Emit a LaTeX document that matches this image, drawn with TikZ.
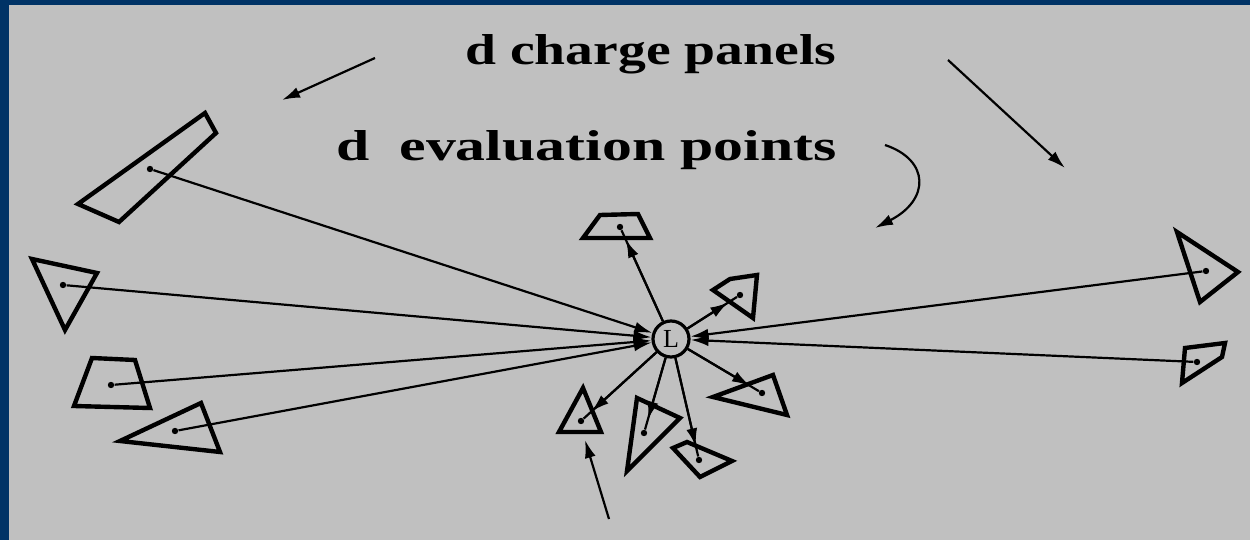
\documentclass[tikz,border=0pt]{standalone}
\usepackage{fontspec}
\setmainfont{Liberation Serif}
\usetikzlibrary{arrows.meta,calc}
\definecolor{frameblue}{RGB}{0,51,102}
\definecolor{bggray}{RGB}{192,192,192}
\begin{document}
\begin{tikzpicture}[x=0.5pt,y=-0.5pt,
  panel/.style={line width=2.2pt,line join=miter},
  conn/.style={line width=1.1pt},
  tip/.style={-{Latex[length=9pt,width=5.5pt]}},
  dotpt/.style={circle,fill=black,inner sep=0pt,minimum size=3.2pt},
  evalpt/.style={circle,draw,line width=1.6pt,minimum size=18pt,inner sep=0pt,font=\fontsize{13}{14}\selectfont},
  label/.style={anchor=base west,inner sep=0pt}]
\useasboundingbox (0,0) rectangle (1250,540);
\fill[frameblue] (0,0) rectangle (1250,540);
\fill[bggray] (9,5) rectangle (1250,540);

% evaluation point
\node[evalpt] (L) at (671,339) {L};

% far panels (left)
\draw[panel] (205,113) -- (216,133) -- (119,222) -- (78,204) -- cycle;
\node[dotpt] (pa) at (150,169) {};
\draw[panel] (32,259) -- (97,273) -- (65,330) -- cycle;
\node[dotpt] (pb) at (63,285) {};
\draw[panel] (92,358) -- (135,360) -- (150,408) -- (74,406) -- cycle;
\node[dotpt] (pc) at (111,385) {};
\draw[panel] (120,441) -- (201,403) -- (220,452) -- cycle;
\node[dotpt] (pd) at (175,431) {};
% far panels (right)
\draw[panel] (1177,232) -- (1238,272) -- (1200,302) -- cycle;
\node[dotpt] (pe) at (1206,271) {};
\draw[panel] (1185,348) -- (1225,343) -- (1222,357) -- (1182,383) -- cycle;
\node[dotpt] (pf) at (1197,362) {};

% near panels
\draw[panel] (583,238) -- (600,215) -- (638,214) -- (650,238) -- cycle;
\node[dotpt] (pg) at (620,227) {};
\draw[panel] (713,290) -- (730,279) -- (757,275) -- (753,318) -- cycle;
\node[dotpt] (ph) at (740,295) {};
\draw[panel] (713,397) -- (773,375) -- (787,415) -- cycle;
\node[dotpt] (pi) at (762,393) {};
\draw[panel] (583,388) -- (601,432) -- (559,432) -- cycle;
\node[dotpt] (pj) at (581,421) {};
\draw[panel] (637,398) -- (680,418) -- (627,471) -- cycle;
\node[dotpt] (pk) at (644,433) {};
\draw[panel] (673,448) -- (687,442) -- (732,461) -- (700,477) -- cycle;
\node[dotpt] (pm) at (699,460) {};

% connectors from far panels to L
\foreach \p in {pa,pb,pc,pd,pe,pf}
  \draw[conn,tip] (\p) -- (L);
% connectors from L to near panels
\foreach \p in {pg,ph,pi,pj,pk,pm}{
  \draw[conn] (L) -- (\p);
  \draw[conn,tip] (L) -- ($(\p)!7pt!(L)$);
}

% labels
\node[label] (t1) at (465,65) {\bfseries\resizebox{185.5pt}{15pt}{d charge panels}};
\node[label] (t2) at (336,161) {\bfseries\resizebox{250pt}{15pt}{d\ \ evaluation points}};

% annotation arrows
\coordinate (a1s) at (375,58);  \coordinate (a1e) at (282,100);
\coordinate (a2s) at (948,60);  \coordinate (a2e) at (1065,168);
\coordinate (a3s) at (885,145); \coordinate (a3e) at (875,228);
\coordinate (a4s) at (609,519); \coordinate (a4e) at (585,440);
\draw[conn,tip] (a1s) -- (a1e);
\draw[conn,tip] (a2s) -- (a2e);
\draw[conn,tip] (a3s) .. controls (930,160) and (930,200) .. (a3e);
\draw[conn,tip] (a4s) -- (a4e);
\end{tikzpicture}
\end{document}
